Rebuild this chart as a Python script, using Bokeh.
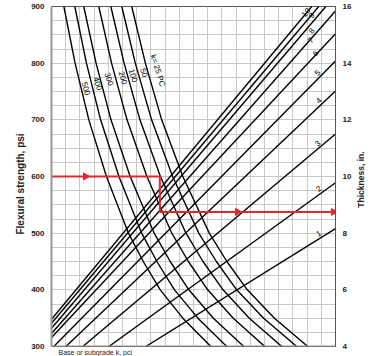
import math
from bokeh.plotting import figure
from bokeh.models import Range1d, LinearAxis, FixedTicker, Title, Span
from bokeh.core.properties import value
from bokeh.embed import file_html
from bokeh.resources import INLINE

# ---------------- data ----------------
# flexural strength levels (psi) at which the k-curves were read
flex_levels = [900, 800, 700, 600, 500, 450, 400, 350, 300]
# k-curves: horizontal position (nomograph units 0..20) at each flex level
k_names = ["500", "400", "300", "200", "100", "50", "k= 25 PC"]
k_500 = [0.87, 1.66, 2.63, 3.87, 5.42, 6.46, 7.66, 9.25, 11.22]
k_400 = [1.64, 2.46, 3.46, 4.75, 6.35, 7.42, 8.66, 10.31, 12.34]
k_300 = [2.27, 3.14, 4.19, 5.54, 7.23, 8.36, 9.67, 11.40, 13.54]
k_200 = [3.33, 4.23, 5.32, 6.72, 8.47, 9.64, 11.00, 12.80, 15.02]
k_100 = [4.18, 5.11, 6.23, 7.67, 9.47, 10.67, 12.08, 13.93, 16.22]
k_50 = [4.95, 5.90, 7.05, 8.53, 10.37, 11.61, 13.04, 14.94, 17.27]
k_25 = [5.65, 6.61, 7.76, 9.25, 11.11, 12.35, 13.79, 15.70, 18.05]
k_curves = [k_500, k_400, k_300, k_200, k_100, k_50, k_25]

# straight reference lines 1..10 (start / end points, x in nomograph units, y in psi)
line_names = ["1", "2", "3", "4", "5", "6", "7", "8", "9", "10"]
line_x0 = [6.64, 4.04, 2.20, 1.01, 0.16, 0.0, 0.0, 0.0, 0.0, 0.0]
line_y0 = [300, 300, 300, 300, 300, 316, 323, 332, 341, 348]
line_x1 = [20.0, 20.0, 20.0, 20.0, 20.0, 20.0, 20.0, 19.32, 18.82, 18.33]
line_y1 = [508, 589, 675, 751, 804, 852, 892, 900, 900, 900]

# example path (red)
ex_flex = 600          # psi
ex_turn_x = 7.63       # where it meets the k = 100 curve
ex_thickness = 8.75    # in.
ex_arrow_x1 = [2.4]
ex_arrow_x2 = [13.1, 19.85]

left_ticks = [300, 400, 500, 600, 700, 800, 900]
right_ticks = [4, 6, 8, 10, 12, 14, 16]
left_title = "Flexural strength, psi"
right_title = "Thickness, in."
bottom_title = "Base or subgrade k, pci"

# label placement (layout only)
k_lab_x = [2.42, 3.25, 4.04, 5.02, 5.73, 6.50, 7.49]
k_lab_y = [755, 764, 772, 774, 778, 783, 787]
l_lab_x = [18.82, 18.82, 18.75, 18.82, 18.75, 18.61, 18.26, 18.33, 18.33, 17.92]
l_lab_y = [499, 578, 658, 734, 783, 817, 840, 857, 884, 889]
l_lab_ang = [33, 36, 40, 44, 46, 47, 48, 49, 50, 50]
left_title_at = 676    # anchor of the rotated side titles (psi scale)
right_title_at = 545

# ---------------- figure ----------------
FONT = "Liberation Sans"
TXT = "#222222"
p = figure(width=387, height=356, x_range=Range1d(0, 20), y_range=Range1d(300, 900),
           min_border_left=51, min_border_right=52, min_border_top=6, min_border_bottom=10,
           toolbar_location=None, output_backend="svg")
p.extra_y_ranges = {"thick": Range1d(4, 16)}

p.xaxis.visible = False
p.xgrid.ticker = FixedTicker(ticks=list(range(0, 21)))
p.ygrid.ticker = FixedTicker(ticks=list(range(300, 901, 25)))
p.grid.grid_line_color = "#c8c8c8"
p.grid.grid_line_width = 1
p.outline_line_color = "#555555"
p.outline_line_width = 1


def style_axis(a, size="8px", standoff=7):
    a.major_tick_line_color = None
    a.minor_tick_line_color = None
    a.major_tick_out = 0
    a.major_tick_in = 0
    a.minor_tick_out = 0
    a.minor_tick_in = 0
    a.major_label_standoff = standoff
    a.major_label_text_font = FONT
    a.major_label_text_font_style = "bold"
    a.major_label_text_font_size = size
    a.major_label_text_color = TXT


ax = p.yaxis[0]
ax.ticker = FixedTicker(ticks=left_ticks)
style_axis(ax)
ax.axis_line_color = "#999999"
ax.axis_line_width = 2

# gray baseline along the bottom edge (like the left axis line)
p.add_layout(Span(location=300, dimension="width", line_color="#999999", line_width=2))

# left title drawn as the single label of an extra axis (reads bottom-to-top)
lt = LinearAxis(ticker=FixedTicker(ticks=[left_title_at]),
                major_label_overrides={left_title_at: left_title})
style_axis(lt, size="10px", standoff=8)
lt.major_label_orientation = math.pi / 2
lt.axis_line_color = None
p.add_layout(lt, "left")

rax = LinearAxis(y_range_name="thick", ticker=FixedTicker(ticks=right_ticks))
style_axis(rax)
rax.axis_line_color = "#555555"
rax.axis_line_width = 1
p.add_layout(rax, "right")

rt = LinearAxis(ticker=FixedTicker(ticks=[right_title_at]),
                major_label_overrides={right_title_at: right_title})
style_axis(rt, size="8.5px", standoff=7)
rt.major_label_orientation = math.pi / 2
rt.axis_line_color = None
p.add_layout(rt, "right")

p.add_layout(Title(text=bottom_title, align="left", offset=7, standoff=0,
                   text_font=FONT, text_font_style="normal", text_font_size="7px",
                   text_color=TXT), "below")

# k-curves
for xs in k_curves:
    p.line(xs, flex_levels, line_color="black", line_width=1.4)

# straight lines
p.segment(x0=line_x0, y0=line_y0, x1=line_x1, y1=line_y1, line_color="black", line_width=1.4)

# labels
p.text(x=k_lab_x, y=k_lab_y, text=k_names, angle=-73, angle_units="deg",
       text_align="center", text_baseline="middle", text_font=value(FONT),
       text_font_size="8px", text_color="#000000")
p.text(x=l_lab_x, y=l_lab_y, text=line_names, angle=l_lab_ang, angle_units="deg",
       text_align="center", text_baseline="middle", text_font=value(FONT),
       text_font_size="8px", text_color="#000000")

# red example path
thick_psi = 300 + (ex_thickness - 4) * (900 - 300) / (16 - 4)
RED = "#e3262e"
p.line([0, ex_turn_x, ex_turn_x, 20], [ex_flex, ex_flex, thick_psi, thick_psi],
       line_color=RED, line_width=2)
p.scatter(ex_arrow_x1, [ex_flex] * len(ex_arrow_x1), marker="triangle", size=7,
          angle=-90, angle_units="deg", color=RED)
p.scatter(ex_arrow_x2, [thick_psi] * len(ex_arrow_x2), marker="triangle", size=7,
          angle=-90, angle_units="deg", color=RED)

open("out.html", "w").write(file_html(p, INLINE))
